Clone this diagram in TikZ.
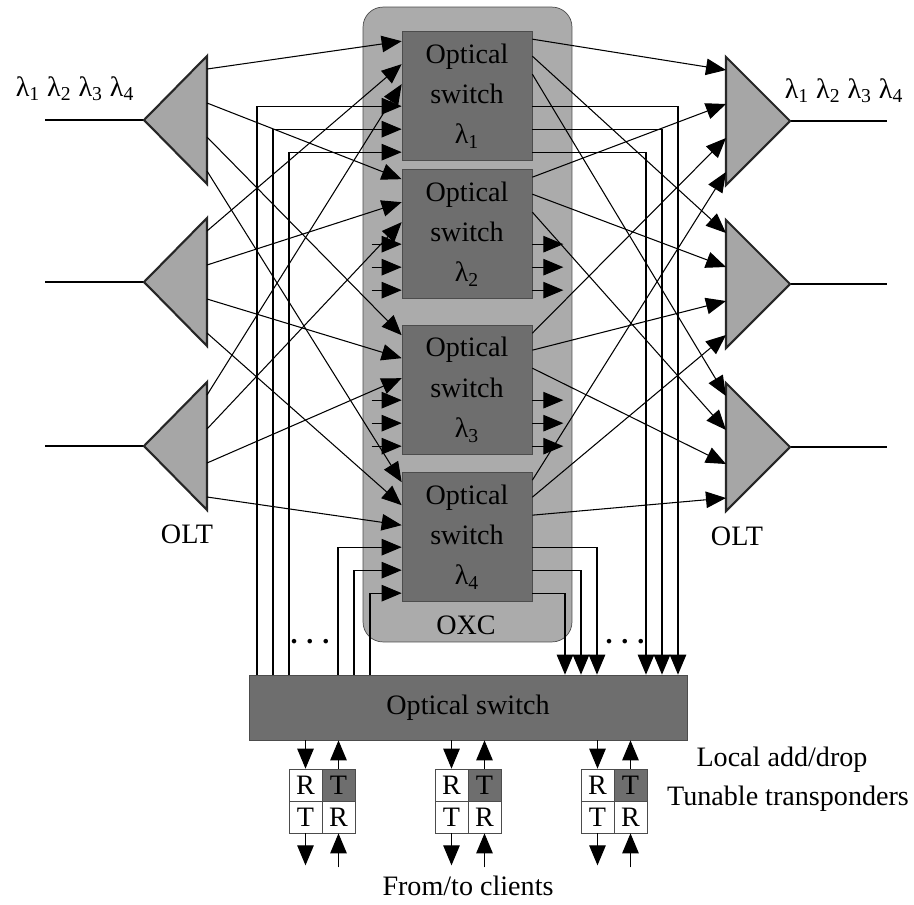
\documentclass[tikz,border=0pt]{standalone}
\usepackage{fontspec}
\setmainfont{Liberation Serif}
\usetikzlibrary{matrix,arrows.meta,calc}
\newcommand{\wl}[1]{λ\textsubscript{#1}}
\definecolor{oxcgray}{gray}{0.67}
\definecolor{swgray}{gray}{0.43}
\definecolor{oltgray}{gray}{0.65}

\begin{document}
\begin{tikzpicture}[x=0.02cm, y=-0.02cm, every node/.style={font=\fontsize{16}{19}\selectfont}, >={Triangle[length=4mm,width=3.3mm]},
	fibre/.style={line width=0.6pt}, olt/.style={draw=black!85, line width=1.2pt, fill=oltgray},
	swbox/.style={draw=black!70, fill=swgray, text=black, minimum width=2.6cm, minimum height=2.58cm, align=center, font=\fontsize{16}{23}\selectfont},
	trx/.style={matrix of nodes, nodes={draw=black!70, fill=white, minimum width=0.66cm, minimum height=0.64cm, inner sep=0pt, anchor=center}, column sep=-\pgflinewidth, row sep=-\pgflinewidth}]
	\useasboundingbox (0,0) rectangle (914,904);
	\node[draw=black!70, fill=oxcgray, rounded corners=0.4cm, minimum width=4.18cm, minimum height=12.7cm] (oxc) at (467.5,324.5) {};
	\node (oxclabel) at (466,625) {OXC};
	\foreach \i/\yc in {1/96,2/234,3/390,4/537}{
		\node[swbox] (S\i) at (467,\yc) {Optical\\switch\\\wl{\i}};
		\foreach \k/\dy in {1/10,2/33,3/53,4/75,5/98,6/121}
			\coordinate (S\i-in\k) at ($(S\i.north west)+(0,\dy)$);
		\foreach \k/\dy in {1/8,2/25,3/43,4/75,5/98,6/121}
			\coordinate (S\i-out\k) at ($(S\i.north east)+(0,\dy)$);
	}
	\node[draw=black!70, fill=swgray, text=black, minimum width=8.76cm, minimum height=1.3cm] (osw) at (468,707.5) {Optical switch};
	\foreach \j/\yc in {1/120,2/282,3/446}{
		\coordinate (L\j) at (144,\yc);
		\coordinate (Lin\j) at (45,\yc);
		\draw[line width=1.2pt] (Lin\j) -- (L\j);
		\draw[olt] (L\j) -- ++(63,-64) -- ++(0,128) -- cycle;
		\foreach \k/\dy in {1/-51,2/-17,3/17,4/51}
			\coordinate (L\j-\k) at ($(L\j)+(63,\dy)$);
	}
	\foreach \j/\yc in {1/121,2/284,3/447}{
		\coordinate (R\j) at (790,\yc);
		\coordinate (Rout\j) at (887,\yc);
		\draw[line width=1.2pt] (R\j) -- (Rout\j);
		\draw[olt] (R\j) -- ++(-64,-64) -- ++(0,128) -- cycle;
		\foreach \k/\dy in {1/-51,2/-17,3/17,4/51}
			\coordinate (R\j-\k) at ($(R\j)+(-64,\dy)$);
	}
	\foreach \j in {1,2,3}
		\foreach \k in {1,2,3,4}{
			\draw[fibre,->] (L\j-\k) -- (S\k-in\j);
			\draw[fibre,->] (S\k-out\j) -- (R\j-\k);
		}
	\foreach \x/\s/\k in {257/1/4,273/1/5,289/1/6,338/4/4,354/4/5,370/4/6}{
		\coordinate (add\s\k) at (\x,0 |- osw.north);
		\draw[fibre,->] (add\s\k) |- (S\s-in\k);
	}
	\foreach \x/\s/\k in {678/1/4,662/1/5,646/1/6,597/4/4,581/4/5,565/4/6}{
		\coordinate (drop\s\k) at (\x,0 |- osw.north);
		\draw[fibre,->] (S\s-out\k) -| (drop\s\k);
	}
	\foreach \s in {2,3}
		\foreach \k in {4,5,6}{
			\coordinate (stubin\s\k) at ($(S\s-in\k)+(-30,0)$);
			\coordinate (stubout\s\k) at ($(S\s-out\k)+(31,0)$);
			\draw[fibre,->] (stubin\s\k) -- (S\s-in\k);
			\draw[fibre,->] (S\s-out\k) -- (stubout\s\k);
		}
	\matrix (tr1) [trx] at (322,801) {R & |[fill=swgray]| T \\ T & R \\};
	\matrix (tr2) [trx] at (468,801) {R & |[fill=swgray]| T \\ T & R \\};
	\matrix (tr3) [trx] at (614,801) {R & |[fill=swgray]| T \\ T & R \\};
	\foreach \t in {1,2,3}{
		\coordinate (dn\t) at (tr\t-1-1.north |- osw.south);
		\coordinate (up\t) at (tr\t-1-2.north |- osw.south);
		\coordinate (cla\t) at ($(tr\t-2-1.south)+(0,32)$);
		\coordinate (clb\t) at ($(tr\t-2-2.south)+(0,34)$);
		\draw[fibre,->] (dn\t) -- (tr\t-1-1.north);
		\draw[fibre,->] (tr\t-1-2.north) -- (up\t);
		\draw[fibre,->] (tr\t-2-1.south) -- (cla\t);
		\draw[fibre,->] (clb\t) -- (tr\t-2-2.south);
	}
	\node[anchor=base] (wlL) at (75,96) {\wl{1} \wl{2} \wl{3} \wl{4}};
	\node[anchor=base] (wlR) at (844,98) {\wl{1} \wl{2} \wl{3} \wl{4}};
	\node (oltL) at (187,534) {OLT};
	\node (oltR) at (737,536) {OLT};
	\node[anchor=base] (dotsL) at (310,643) {\textbf{.\hspace{5pt}.\hspace{5pt}.}};
	\node[anchor=base] (dotsR) at (625,643) {\textbf{.\hspace{5pt}.\hspace{5pt}.}};
	\node[anchor=base] (adddrop) at (782,766) {Local add/drop};
	\node[anchor=base] (tunable) at (788,805) {Tunable transponders};
	\node[anchor=base] (clients) at (468,895) {From/to clients};
\end{tikzpicture}
\end{document}
